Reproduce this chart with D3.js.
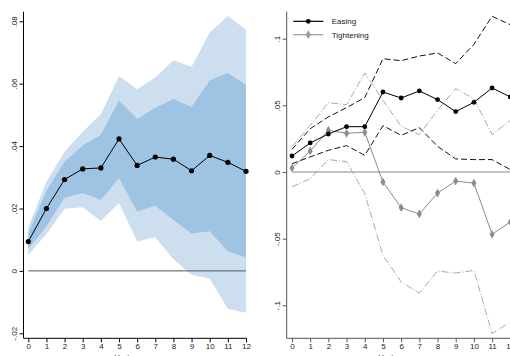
<!DOCTYPE html>
<html lang="en">
<head>
<meta charset="utf-8">
<title>irf panels</title>
<script src="https://cdn.jsdelivr.net/npm/d3@7"></script>
<style>
  body { margin: 0; background: #fff; }
  svg { display: block; font-family: "Liberation Sans", Arial, sans-serif; }
</style>
</head>
<body>
<script>
// horizons
var horizon = [0,1,2,3,4,5,6,7,8,9,10,11,12];

// left panel: point estimate and two confidence bands
var irf     = [0.0094,0.020,0.0293,0.0327,0.0330,0.0423,0.0338,0.0365,0.0358,0.0321,0.0370,0.0348,0.0319];
var outerHi = [0.0140,0.0286,0.0382,0.0446,0.0502,0.0625,0.0582,0.0620,0.0675,0.0654,0.0764,0.0817,0.0773];
var outerLo = [0.0051,0.0118,0.0199,0.0204,0.0160,0.0218,0.0094,0.0108,0.0037,-0.0012,-0.0025,-0.0121,-0.0134];
var innerHi = [0.0121,0.0257,0.0350,0.0402,0.0436,0.0546,0.0487,0.0523,0.0551,0.0525,0.0610,0.0634,0.0596];
var innerLo = [0.0070,0.0143,0.0235,0.0250,0.0228,0.0297,0.0190,0.0209,0.0163,0.0120,0.0127,0.0062,0.0044];
var leftTicks = [-0.02, 0, 0.02, 0.04, 0.06, 0.08];

// right panel: easing vs tightening
var easing   = [0.012,0.0218,0.0285,0.034,0.034,0.060,0.0555,0.0608,0.0543,0.0453,0.0523,0.063,0.0563];
var easingHi = [0.017,0.0325,0.0413,0.0483,0.0558,0.085,0.0835,0.087,0.0893,0.0813,0.0958,0.1168,0.1105];
var easingLo = [0.0062,0.0113,0.0163,0.0198,0.0125,0.0348,0.0275,0.0333,0.0193,0.0098,0.0093,0.0093,0.0018];
var tight    = [0.003,0.0158,0.0313,0.029,0.0298,-0.0075,-0.0268,-0.0315,-0.0158,-0.0068,-0.0083,-0.0467,-0.0375];
var tightHi  = [0.019,0.035,0.052,0.0505,0.0743,0.0538,0.0343,0.028,0.0463,0.0625,0.055,0.028,0.0388];
var tightLo  = [-0.0112,-0.005,0.0093,0.0078,-0.0163,-0.0625,-0.0825,-0.0908,-0.0743,-0.0758,-0.0738,-0.1213,-0.1125];
var rightTicks = [-0.1, -0.05, 0, 0.05, 0.1];
var legendNames = ["Easing", "Tightening"];

var w = 510, h = 356;
var svg = d3.select("body").append("svg").attr("width", w).attr("height", h);

// stata-like label: ".08", "-.02", "0"
function fmt(v) {
  if (v === 0) return "0";
  var s = String(+v.toFixed(3));
  return s.replace("0.", ".");
}

function drawAxes(x, y, axisX, ticks, axisColor, xEnd) {
  var yAx = svg.append("g")
    .attr("transform", "translate(" + axisX + ",0)")
    .call(d3.axisLeft(y).tickValues(ticks).tickSize(4).tickFormat(fmt).tickSizeOuter(0));
  yAx.select(".domain").attr("stroke", axisColor).attr("d", "M0,11.7V338.3");
  yAx.selectAll(".tick line").attr("stroke", axisColor);
  yAx.selectAll(".tick text")
    .attr("font-size", 8).attr("fill", "#222")
    .attr("x", null).attr("dy", null)
    .attr("text-anchor", "middle")
    .attr("transform", "translate(-7,0) rotate(-90)")
    .attr("dy", "0");

  var xAx = svg.append("g")
    .attr("transform", "translate(0,338.3)")
    .call(d3.axisBottom(x).tickValues(horizon).tickSize(4).tickFormat(d3.format("d")).tickSizeOuter(0));
  xAx.select(".domain").attr("stroke", axisColor).attr("d", "M" + axisX + ",0H" + xEnd);
  xAx.selectAll(".tick line").attr("stroke", axisColor);
  xAx.selectAll(".tick text").attr("font-size", 8).attr("fill", "#222").attr("y", 5);

  svg.append("text")
    .attr("x", (x(0) + x(12)) / 2).attr("y", 360)
    .attr("text-anchor", "middle").attr("font-size", 8).attr("fill", "#222")
    .text("Horizon-year");
}

// ---------- left panel
var xL = d3.scaleLinear().domain([0, 12]).range([28.3, 246]);
var yL = d3.scaleLinear().domain([-0.02, 0.08]).range([333.3, 21.3]);

var bandL = function(lo, hi) {
  return d3.area().x(function(d) { return xL(d); })
    .y0(function(d, i) { return yL(lo[i]); })
    .y1(function(d, i) { return yL(hi[i]); });
};
svg.append("path").datum(horizon).attr("d", bandL(outerLo, outerHi)(horizon)).attr("fill", "#cddfef");
svg.append("path").datum(horizon).attr("d", bandL(innerLo, innerHi)(horizon)).attr("fill", "#9ec3e3");

svg.append("line")
  .attr("x1", xL(0)).attr("x2", xL(12)).attr("y1", yL(0)).attr("y2", yL(0))
  .attr("stroke", "#555").attr("stroke-width", 1);

var lineL = d3.line().x(function(d) { return xL(d); }).y(function(d, i) { return yL(irf[i]); });
svg.append("path").attr("d", lineL(horizon)).attr("fill", "none").attr("stroke", "#000").attr("stroke-width", 1);
svg.selectAll(".dotL").data(horizon).enter().append("circle")
  .attr("cx", function(d) { return xL(d); })
  .attr("cy", function(d, i) { return yL(irf[i]); })
  .attr("r", 2.6).attr("fill", "#000");

drawAxes(xL, yL, 23.5, leftTicks, "#000", 246.5);

// ---------- right panel
var xR = d3.scaleLinear().domain([0, 12]).range([292, 510.3]);
var yR = d3.scaleLinear().domain([-0.1, 0.1]).range([305.3, 38.7]);

svg.append("line")
  .attr("x1", xR(0)).attr("x2", xR(12)).attr("y1", yR(0)).attr("y2", yR(0))
  .attr("stroke", "#888").attr("stroke-width", 1.2);

function lineR(vals) {
  return d3.line().x(function(d) { return xR(d); }).y(function(d, i) { return yR(vals[i]); })(horizon);
}

// bounds
svg.append("path").attr("d", lineR(easingHi)).attr("fill", "none").attr("stroke", "#111").attr("stroke-dasharray", "6,3");
svg.append("path").attr("d", lineR(easingLo)).attr("fill", "none").attr("stroke", "#111").attr("stroke-dasharray", "6,3");
svg.append("path").attr("d", lineR(tightHi)).attr("fill", "none").attr("stroke", "#aaa").attr("stroke-dasharray", "7,2,1,2");
svg.append("path").attr("d", lineR(tightLo)).attr("fill", "none").attr("stroke", "#aaa").attr("stroke-dasharray", "7,2,1,2");

// tightening
svg.append("path").attr("d", lineR(tight)).attr("fill", "none").attr("stroke", "#8c8c8c").attr("stroke-width", 1);
svg.selectAll(".dmd").data(horizon).enter().append("path")
  .attr("d", d3.symbol().type(d3.symbolDiamond).size(22))
  .attr("transform", function(d, i) { return "translate(" + xR(d) + "," + yR(tight[i]) + ")"; })
  .attr("fill", "#8c8c8c");

// easing
svg.append("path").attr("d", lineR(easing)).attr("fill", "none").attr("stroke", "#000").attr("stroke-width", 1);
svg.selectAll(".dotR").data(horizon).enter().append("circle")
  .attr("cx", function(d) { return xR(d); })
  .attr("cy", function(d, i) { return yR(easing[i]); })
  .attr("r", 2.4).attr("fill", "#000");

drawAxes(xR, yR, 286.7, rightTicks, "#555", 512);

// legend
var leg = svg.append("g");
var legColors = ["#000", "#999"];
legendNames.forEach(function(name, i) {
  var ly = 21.3 + i * 13.4;
  leg.append("line").attr("x1", 293.3).attr("x2", 323.3).attr("y1", ly).attr("y2", ly)
    .attr("stroke", legColors[i]).attr("stroke-width", 1.2);
  if (i === 0) {
    leg.append("circle").attr("cx", 308.3).attr("cy", ly).attr("r", 2.4).attr("fill", legColors[i]);
  } else {
    leg.append("path").attr("d", d3.symbol().type(d3.symbolDiamond).size(22))
      .attr("transform", "translate(308.3," + ly + ")").attr("fill", legColors[i]);
  }
  leg.append("text").attr("x", 331.7).attr("y", ly + 3).attr("font-size", 8).attr("fill", "#222").text(name);
});
</script>
</body>
</html>
